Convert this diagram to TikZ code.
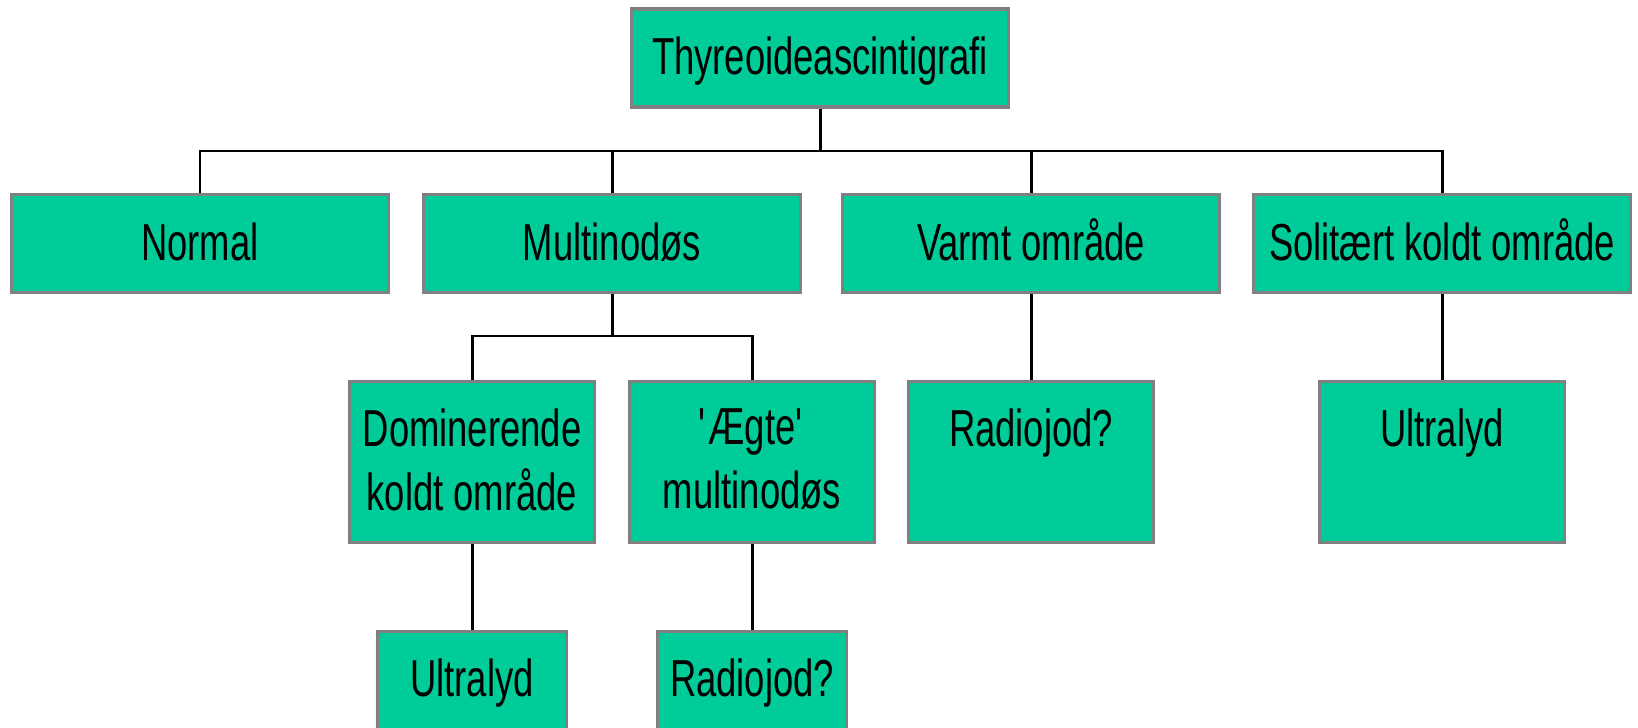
\documentclass[tikz,border=0pt]{standalone}
\usepackage{fontspec}
\setmainfont{Liberation Sans}[FakeStretch=0.70]
\definecolor{scintgreen}{RGB}{0,204,153}
\definecolor{scintgray}{RGB}{128,128,128}
\begin{document}
\begin{tikzpicture}[
    box/.style={draw=scintgray, line width=0.95pt, fill=scintgreen, inner sep=0pt,
      minimum width=3.77cm, minimum height=0.98cm, text height=0.35cm, text depth=0.01cm,
      font=\fontsize{14.8}{18.4}\selectfont},
    tallbox/.style={box, minimum width=2.45cm, minimum height=1.61cm},
    smallbox/.style={box, minimum width=1.89cm, minimum height=1.61cm},
    boxtext/.style={anchor=north, yshift=-0.28cm, inner sep=0pt, align=center,
      font=\fontsize{14.8}{18.4}\selectfont},
    link/.style={line width=0.85pt}]
  \useasboundingbox (0,0) rectangle (16.38,7.27);
  \node[box] (scint) at (8.20,6.69) {Thyreoideascintigrafi};
  \node[box] (normal) at (2.00,4.835) {Normal};
  \node[box] (multi) at (6.12,4.835) {Multinodøs};
  \node[box] (varmt) at (10.31,4.835) {Varmt område};
  \node[box] (solit) at (14.42,4.835) {Solitært koldt område};
  \node[tallbox, label={[boxtext, name=domtxt]north:{Dominerende\\koldt område}}] (dom) at (4.72,2.65) {};
  \node[tallbox, label={[boxtext, name=aegtetxt]north:{\textquotesingle Ægte\textquotesingle\\multinodøs}}] (aegte) at (7.52,2.65) {};
  \node[tallbox, label={[boxtext, name=radiotxt]north:{Radiojod?}}] (radio) at (10.31,2.65) {};
  \node[tallbox, label={[boxtext, name=ultratxt]north:{Ultralyd}}] (ultra) at (14.42,2.65) {};
  \node[smallbox, label={[boxtext, name=ultrabtxt]north:{Ultralyd}}] (ultrab) at (4.72,0.15) {};
  \node[smallbox, label={[boxtext, name=radiobtxt]north:{Radiojod?}}] (radiob) at (7.52,0.15) {};
  \coordinate (bus) at (8.20,5.76);
  \coordinate (subbus) at (6.12,3.91);
  \draw[link] (scint.south) -- (bus);
  \draw[link] (normal.north) |- (bus) -| (solit.north);
  \draw[link] (multi.north) -- (multi.north |- bus);
  \draw[link] (varmt.north) -- (varmt.north |- bus);
  \draw[link] (multi.south) -- (subbus);
  \draw[link] (dom.north) |- (subbus) -| (aegte.north);
  \draw[link] (varmt.south) -- (radio.north);
  \draw[link] (solit.south) -- (ultra.north);
  \draw[link] (dom.south) -- (ultrab.north);
  \draw[link] (aegte.south) -- (radiob.north);
\end{tikzpicture}
\end{document}
